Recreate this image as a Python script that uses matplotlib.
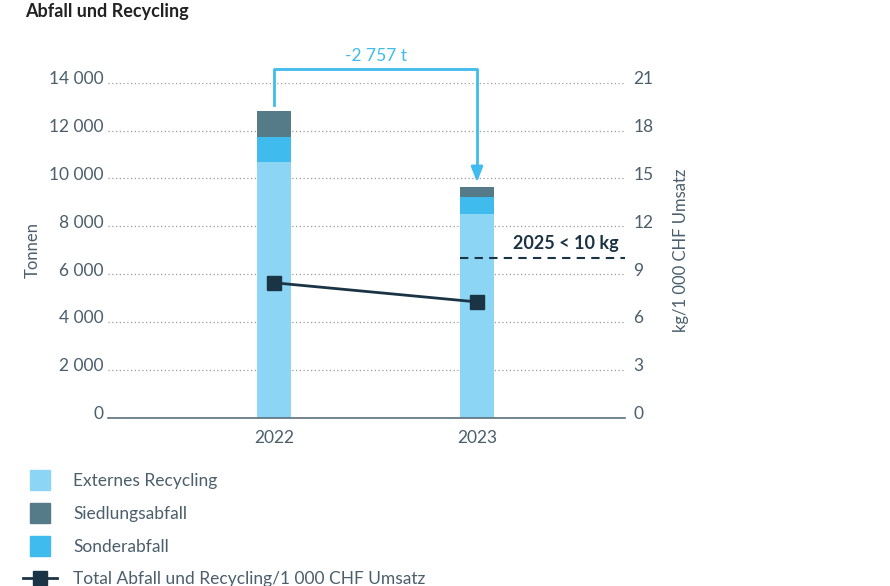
import numpy as np
import matplotlib.pyplot as plt
import matplotlib.transforms as mtransforms
from matplotlib.lines import Line2D

# data
years = ["2022", "2023"]
externes_recycling = [10680, 8500]
sonderabfall = [1070, 700]
siedlungsabfall = [1055, 440]
kg_per_1000_chf = [8.45, 7.25]
target_kg = 10
diff_label = "-2 757 t"
target_label = "2025 < 10 kg"

left_ticks = [0, 2000, 4000, 6000, 8000, 10000, 12000, 14000]
left_ticklabels = ["0", "2 000", "4 000", "6 000", "8 000", "10 000", "12 000", "14 000"]
right_ticks = [0, 3, 6, 9, 12, 15, 18, 21]

c_ext = "#8dd5f5"
c_sond = "#3fbbee"
c_sied = "#557b88"
c_line = "#1b3445"
c_text = "#4a5e6b"
c_grid = "#9a9a9a"

plt.rcParams['font.family'] = ['Lato', 'DejaVu Sans']

fig = plt.figure(figsize=(8.9, 5.86), dpi=100)
W, H = 890, 586
x0, x1 = 108, 625
y_zero, y_top = 417.5, 82.7
ax = fig.add_axes([x0 / W, 1 - y_zero / H, (x1 - x0) / W, (y_zero - y_top) / H])

x = np.array([0, 1])
width = 0.17
ax.bar(x, externes_recycling, width, color=c_ext, zorder=2)
b2 = np.array(externes_recycling)
ax.bar(x, sonderabfall, width, bottom=b2, color=c_sond, zorder=2)
b3 = b2 + np.array(sonderabfall)
ax.bar(x, siedlungsabfall, width, bottom=b3, color=c_sied, zorder=2)
totals = b3 + np.array(siedlungsabfall)

ax.set_xlim(-0.82, 1.73)
ax.set_ylim(0, 14000)
ax.set_yticks(left_ticks)
ax.set_yticklabels(left_ticklabels)
ax.set_xticks(x)
ax.set_xticklabels(years)
ax.tick_params(axis="both", length=0, labelsize=12.5, colors=c_text)
ax.tick_params(axis="y", pad=3)
ax.tick_params(axis="x", pad=9)
ax.yaxis.grid(True, linestyle=(0, (1, 2)), color=c_grid, linewidth=0.9, zorder=0)
for s in ["top", "right", "left"]:
    ax.spines[s].set_visible(False)
ax.spines["bottom"].set_color("#5b6f7b")
ax.spines["bottom"].set_linewidth(1.2)
ax.set_ylabel("Tonnen", fontsize=12, color=c_text, labelpad=6)

# tick labels sit a little above their grid lines
lift = mtransforms.ScaledTranslation(0, 5 / 100, fig.dpi_scale_trans)
for lab in ax.get_yticklabels():
    lab.set_transform(lab.get_transform() + lift)

# difference arrow between the bar tops
arrow_y = 14570
ax.plot([0, 0, 1, 1], [totals[0] + 250, arrow_y, arrow_y, totals[1] + 600],
        color=c_sond, linewidth=2, clip_on=False, zorder=3)
ax.annotate("", xy=(1, totals[1] + 80), xytext=(1, totals[1] + 650),
            arrowprops=dict(arrowstyle="-|>,head_width=0.35,head_length=0.9",
                            color=c_sond, lw=2), annotation_clip=False)
ax.text(0.5, arrow_y + 200, diff_label, ha="center", va="bottom",
        fontsize=12.5, color=c_sond)

ax2 = ax.twinx()
ax2.set_ylim(0, 21)
ax2.set_yticks(right_ticks)
ax2.tick_params(axis="y", length=0, labelsize=12.5, colors=c_text, pad=6)
for s in ax2.spines.values():
    s.set_visible(False)
for lab in ax2.get_yticklabels():
    lab.set_transform(lab.get_transform() + lift)
ax2.set_ylabel("kg/1 000 CHF Umsatz", fontsize=12, color=c_text, labelpad=14)
ax2.plot(x, kg_per_1000_chf, color=c_line, linewidth=2, marker="s",
         markersize=10, zorder=4)
ax2.plot([1 - width / 2, 1.73], [target_kg, target_kg], color=c_line,
         linewidth=1.5, linestyle=(0, (4, 3)), zorder=4)
ax2.text(1.70, target_kg + 0.35, target_label, ha="right", va="bottom",
         fontsize=13, color=c_line, fontweight="bold")

fig.text(25 / W, 1 - 12 / H, "Abfall und Recycling", ha="left", va="center",
         fontsize=13, fontweight="bold", color="#222222")

handles = [
    Line2D([], [], linestyle="none", marker="s", markersize=15, color=c_ext),
    Line2D([], [], linestyle="none", marker="s", markersize=15, color=c_sied),
    Line2D([], [], linestyle="none", marker="s", markersize=15, color=c_sond),
    Line2D([], [], color=c_line, linewidth=2, marker="s", markersize=10),
]
labels = ["Externes Recycling", "Siedlungsabfall", "Sonderabfall",
          "Total Abfall und Recycling/1 000 CHF Umsatz"]
leg = fig.legend(handles, labels, loc="upper left", bbox_to_anchor=(23 / W, 0.193),
                 frameon=False, fontsize=12.5, labelspacing=0.97, handlelength=1.95,
                 handletextpad=0.95, borderpad=0, borderaxespad=0)
for t in leg.get_texts():
    t.set_color(c_text)

fig.savefig("out.png", dpi=100)
